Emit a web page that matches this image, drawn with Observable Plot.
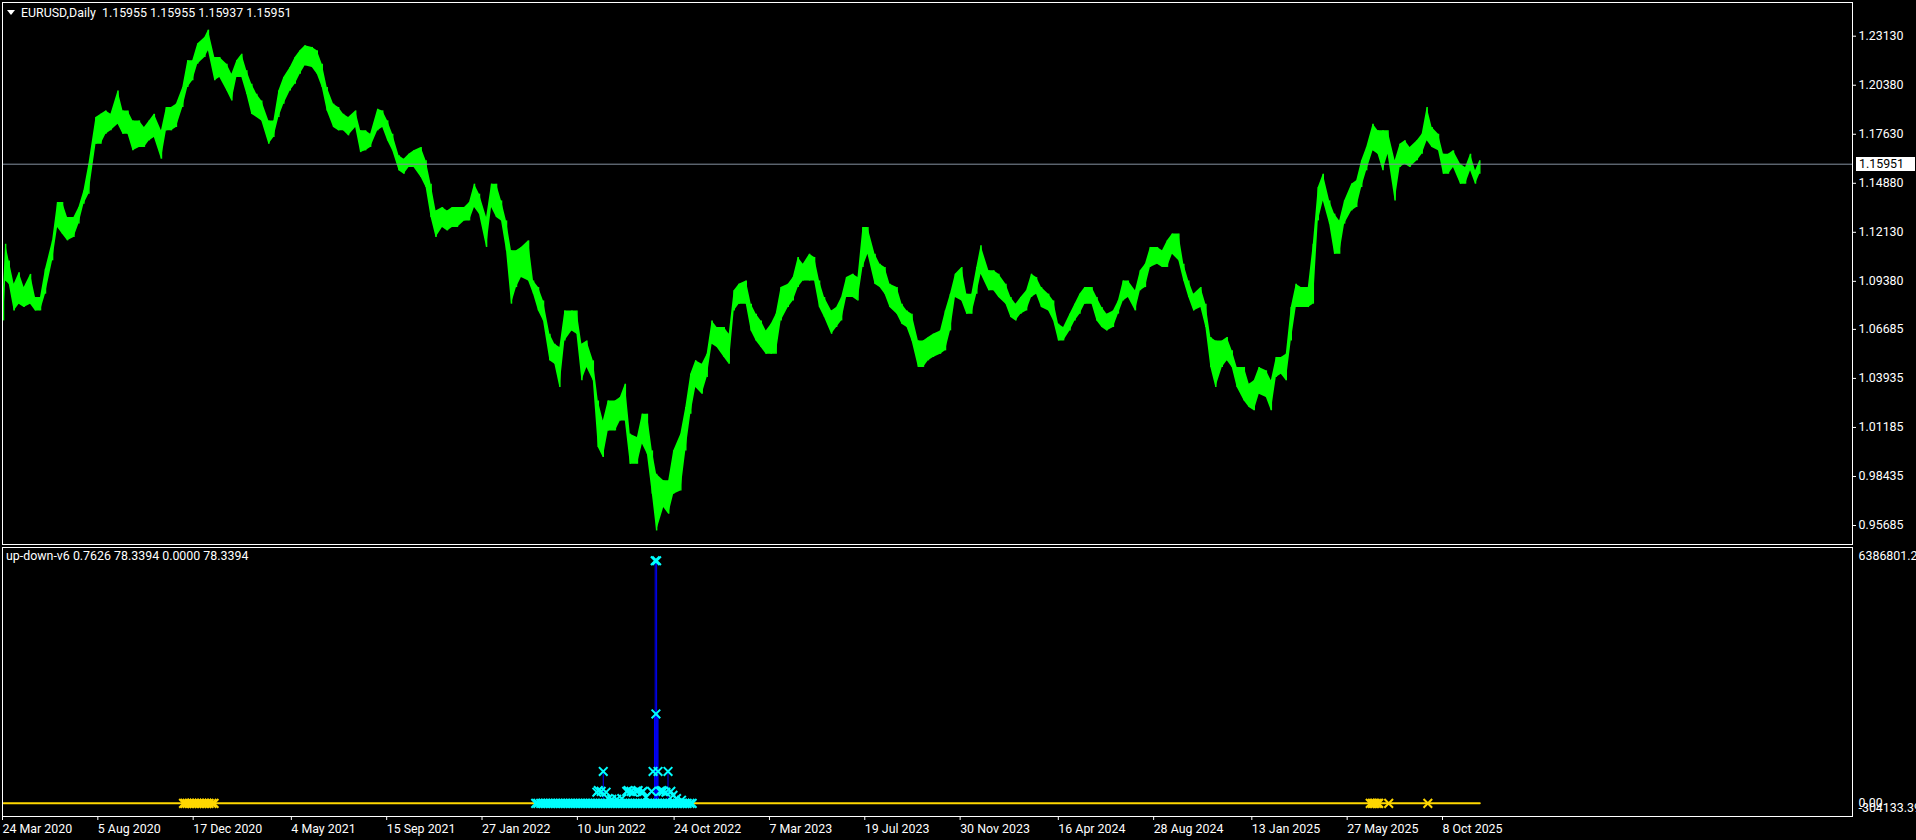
<!DOCTYPE html>
<html>
<head>
<meta charset="utf-8">
<script src="https://cdn.jsdelivr.net/npm/d3@7"></script>
<script src="https://cdn.jsdelivr.net/npm/@observablehq/plot@0.6"></script>
<style>
html,body{margin:0;padding:0;background:#000;overflow:hidden;}
#wrap{position:relative;width:1916px;height:840px;background:#000;font-family:Roboto,"Liberation Sans",Arial,sans-serif;color:#fff;}
#wrap svg{position:absolute;left:0;}
.lbl{position:absolute;font-size:12.4px;line-height:14px;white-space:pre;color:#fff;}
#tri{position:absolute;left:7px;top:10px;width:0;height:0;border-left:4px solid transparent;border-right:4px solid transparent;border-top:5px solid #fff;}
#tag{position:absolute;left:1856px;width:56px;height:14px;background:#fff;color:#000;font-size:12.4px;line-height:14px;padding-left:3px;white-space:pre;}
</style>
</head>
<body>
<div id="wrap"></div>
<script>
// ---------- data ----------
const symbolTitle = "EURUSD,Daily  1.15955 1.15955 1.15937 1.15951";
const indicatorTitle = "up-down-v6 0.7626 78.3394 0.0000 78.3394";
const lastPrice = 1.15951;

const priceTicks = [1.23130,1.20380,1.17630,1.14880,1.12130,1.09380,1.06685,1.03935,1.01185,0.98435,0.95685];
const tickDates = ["2020-03-24","2020-08-05","2020-12-17","2021-05-04","2021-09-15","2022-01-27","2022-06-10","2022-10-24","2023-03-07","2023-07-19","2023-11-30","2024-04-16","2024-08-28","2025-01-13","2025-05-27","2025-10-08"];

// price range (high / low) read around the 1st and 15th of each month
const priceDates = [
 "2020-03-24","2020-03-27","2020-04-01","2020-04-15","2020-05-01","2020-05-15","2020-06-01","2020-06-15","2020-07-01","2020-07-15","2020-08-01","2020-08-15","2020-09-01","2020-09-15","2020-10-01","2020-10-15","2020-11-01","2020-11-15","2020-12-01","2020-12-15",
 "2021-01-01","2021-01-06","2021-01-15","2021-02-01","2021-02-15","2021-03-01","2021-03-15","2021-04-01","2021-04-15","2021-05-01","2021-05-15","2021-06-01","2021-06-15","2021-07-01","2021-07-15","2021-08-01","2021-08-15","2021-09-01","2021-09-15","2021-10-01","2021-10-15","2021-11-01","2021-11-15","2021-12-01","2021-12-15",
 "2022-01-01","2022-01-15","2022-02-01","2022-02-15","2022-03-01","2022-03-15","2022-04-01","2022-04-15","2022-05-01","2022-05-15","2022-06-01","2022-06-15","2022-07-01","2022-07-15","2022-08-01","2022-08-15","2022-09-01","2022-09-15","2022-09-28","2022-10-15","2022-11-01","2022-11-15","2022-12-01","2022-12-15",
 "2023-01-01","2023-01-15","2023-02-01","2023-02-15","2023-03-01","2023-03-15","2023-04-01","2023-04-15","2023-05-01","2023-05-15","2023-06-01","2023-06-15","2023-07-01","2023-07-15","2023-08-01","2023-08-15","2023-09-01","2023-09-15","2023-10-01","2023-10-15","2023-11-01","2023-11-15","2023-12-01","2023-12-15","2023-12-28",
 "2024-01-15","2024-02-01","2024-02-15","2024-03-01","2024-03-15","2024-04-01","2024-04-15","2024-05-01","2024-05-15","2024-06-01","2024-06-15","2024-07-01","2024-07-15","2024-08-01","2024-08-15","2024-09-01","2024-09-15","2024-10-01","2024-10-15","2024-11-01","2024-11-15","2024-12-01","2024-12-15",
 "2025-01-01","2025-01-15","2025-02-01","2025-02-15","2025-03-01","2025-03-15","2025-04-01","2025-04-15","2025-05-01","2025-05-15","2025-06-01","2025-06-15","2025-07-01","2025-07-15","2025-08-01","2025-08-15","2025-09-01","2025-09-15","2025-10-01","2025-10-15","2025-11-01","2025-11-15","2025-11-28"
];
const priceHigh = [
 1.0894,1.1146,1.1052,1.0986,1.0977,1.0847,1.1165,1.1380,1.1296,1.1445,1.1857,1.1894,1.2006,1.1894,1.1838,1.1838,1.1782,1.1913,1.2025,1.2175,
 1.2306,1.2347,1.2194,1.2156,1.2175,1.2119,1.1988,1.1838,1.2006,1.2137,1.2231,1.2250,1.2156,1.1932,1.1875,1.1894,1.1782,1.1903,1.1838,1.1642,1.1651,1.1689,1.1483,1.1352,1.1352,
 1.1352,1.1483,1.1296,1.1483,1.1277,1.1109,1.1165,1.0903,1.0641,1.0567,1.0772,1.0585,1.0492,1.0155,1.0267,1.0361,1.0062,1.0193,0.9856,0.9819,1.0081,1.0417,1.0473,1.0716,
 1.0679,1.0885,1.0940,1.0754,1.0660,1.0754,1.0922,1.1072,1.1090,1.0940,1.0772,1.0847,1.0978,1.1240,1.1090,1.1016,1.0903,1.0772,1.0604,1.0623,1.0660,1.0866,1.1016,1.0866,1.1137,
 1.0997,1.0922,1.0810,1.0885,1.0959,1.0866,1.0698,1.0754,1.0866,1.0903,1.0791,1.0772,1.0940,1.0885,1.1034,1.1128,1.1165,1.1203,1.0940,1.0903,1.0623,1.0604,1.0548,
 1.0455,1.0380,1.0436,1.0511,1.0529,1.0922,1.0903,1.1464,1.1389,1.1277,1.1483,1.1614,1.1819,1.1782,1.1614,1.1726,1.1726,1.1913,1.1763,1.1651,1.1595,1.1651,1.1614
];
const priceLow = [
 1.0716,1.0940,1.0921,1.0810,1.0810,1.0772,1.1053,1.1202,1.1184,1.1371,1.1707,1.1763,1.1819,1.1763,1.1689,1.1726,1.1623,1.1782,1.1913,1.2063,
 1.2194,1.2231,1.2063,1.2007,1.2081,1.1988,1.1857,1.1707,1.1857,1.2006,1.2100,1.2137,1.2025,1.1801,1.1782,1.1801,1.1670,1.1782,1.1726,1.1558,1.1576,1.1520,1.1296,1.1240,1.1240,
 1.1277,1.1352,1.1128,1.1296,1.1109,1.0903,1.0940,1.0772,1.0492,1.0342,1.0660,1.0380,1.0380,0.9950,1.0099,1.0155,0.9912,0.9968,0.9538,0.9632,0.9762,1.0193,1.0305,1.0585,
 1.0511,1.0772,1.0810,1.0604,1.0529,1.0529,1.0791,1.0903,1.0940,1.0791,1.0641,1.0716,1.0847,1.1016,1.0922,1.0866,1.0754,1.0679,1.0455,1.0492,1.0529,1.0660,1.0828,1.0754,1.0978,
 1.0885,1.0810,1.0716,1.0772,1.0866,1.0772,1.0604,1.0660,1.0754,1.0810,1.0679,1.0679,1.0828,1.0772,1.0903,1.1034,1.1016,1.1053,1.0847,1.0791,1.0455,1.0455,1.0455,
 1.0267,1.0212,1.0286,1.0399,1.0380,1.0791,1.0791,1.1277,1.1258,1.1090,1.1333,1.1464,1.1670,1.1558,1.1389,1.1595,1.1614,1.1726,1.1670,1.1539,1.1483,1.1558,1.1539
];

// price range read around the 8th and 22nd of each month
const priceDatesMid = [
 "2020-04-08","2020-04-22","2020-05-08","2020-05-22","2020-06-08","2020-06-22","2020-07-08","2020-07-22","2020-08-08","2020-08-22","2020-09-08","2020-09-22","2020-10-08","2020-10-22","2020-11-08","2020-11-22","2020-12-08","2020-12-22",
 "2021-01-22","2021-02-08","2021-02-22","2021-03-08","2021-03-22","2021-04-08","2021-04-22","2021-05-08","2021-05-22","2021-06-08","2021-06-22","2021-07-08","2021-07-22","2021-08-08","2021-08-22","2021-09-08","2021-09-22","2021-10-08","2021-10-22","2021-11-08","2021-11-22","2021-12-08","2021-12-22",
 "2022-01-08","2022-01-22","2022-02-08","2022-02-22","2022-03-08","2022-03-22","2022-04-08","2022-04-22","2022-05-08","2022-05-22","2022-06-08","2022-06-22","2022-07-08","2022-07-22","2022-08-08","2022-08-22","2022-09-08","2022-09-22","2022-10-08","2022-10-22","2022-11-08","2022-11-22","2022-12-08","2022-12-22",
 "2023-01-08","2023-01-22","2023-02-08","2023-02-22","2023-03-08","2023-03-22","2023-04-08","2023-04-22","2023-05-08","2023-05-22","2023-06-08","2023-06-22","2023-07-08","2023-07-22","2023-08-08","2023-08-22","2023-09-08","2023-09-22","2023-10-08","2023-10-22","2023-11-08","2023-11-22","2023-12-08","2023-12-22",
 "2024-01-08","2024-01-22","2024-02-08","2024-02-22","2024-03-08","2024-03-22","2024-04-08","2024-04-22","2024-05-08","2024-05-22","2024-06-08","2024-06-22","2024-07-08","2024-07-22","2024-08-08","2024-08-22","2024-09-08","2024-09-22","2024-10-08","2024-10-22","2024-11-08","2024-11-22","2024-12-08","2024-12-22",
 "2025-01-08","2025-01-22","2025-02-08","2025-02-22","2025-03-08","2025-03-22","2025-04-08","2025-04-22","2025-05-08","2025-05-22","2025-06-08","2025-06-22","2025-07-08","2025-07-22","2025-08-08","2025-08-22","2025-09-08","2025-09-22","2025-10-08","2025-10-22","2025-11-08","2025-11-22"
];
const priceHighMid = [
 1.0922,1.0903,1.0847,1.1006,1.1380,1.1296,1.1352,1.1595,1.1875,1.1875,1.1894,1.1838,1.1801,1.1875,1.1913,1.1932,1.2175,1.2269,
 1.2194,1.2100,1.2212,1.2044,1.1950,1.1838,1.2081,1.2194,1.2259,1.2231,1.2025,1.1913,1.1857,1.1782,1.1763,1.1894,1.1763,1.1623,1.1670,1.1614,1.1333,1.1333,1.1352,
 1.1380,1.1427,1.1483,1.1389,1.1109,1.1128,1.0940,1.0828,1.0585,1.0772,1.0772,1.0604,1.0267,1.0267,1.0286,1.0081,1.0193,0.9987,0.9819,0.9987,1.0230,1.0492,1.0529,1.0679,
 1.0641,1.0922,1.0810,1.0716,1.0698,1.0903,1.0959,1.1034,1.1072,1.0847,1.0791,1.0959,1.0959,1.1240,1.1034,1.0922,1.0810,1.0754,1.0604,1.0641,1.0772,1.0978,1.0866,1.1016,
 1.0997,1.0978,1.0847,1.0847,1.0978,1.0903,1.0828,1.0679,1.0810,1.0903,1.0847,1.0754,1.0828,1.0940,1.0997,1.1128,1.1109,1.1203,1.1034,1.0866,1.0810,1.0604,1.0623,1.0455,
 1.0361,1.0455,1.0380,1.0511,1.0791,1.0903,1.1146,1.1539,1.1315,1.1389,1.1502,1.1689,1.1782,1.1782,1.1707,1.1689,1.1763,1.1801,1.1651,1.1670,1.1576,1.1558
];
const priceLowMid = [
 1.0772,1.0791,1.0772,1.0866,1.1240,1.1165,1.1259,1.1427,1.1707,1.1782,1.1763,1.1670,1.1689,1.1745,1.1782,1.1801,1.2025,1.2156,
 1.2081,1.1950,1.2081,1.1875,1.1838,1.1745,1.1932,1.2044,1.2147,1.2100,1.1894,1.1782,1.1754,1.1660,1.1689,1.1801,1.1670,1.1539,1.1576,1.1464,1.1184,1.1221,1.1240,
 1.1277,1.1315,1.1352,1.1277,1.0810,1.0959,1.0866,1.0716,1.0473,1.0604,1.0641,1.0455,1.0006,1.0099,1.0155,0.9912,1.0025,0.9744,0.9669,0.9744,0.9987,1.0342,1.0399,1.0567,
 1.0473,1.0810,1.0660,1.0567,1.0529,1.0716,1.0828,1.0940,1.0940,1.0735,1.0679,1.0847,1.0828,1.1090,1.0903,1.0791,1.0698,1.0604,1.0455,1.0511,1.0548,1.0847,1.0754,1.0866,
 1.0885,1.0847,1.0735,1.0754,1.0847,1.0791,1.0716,1.0604,1.0716,1.0810,1.0716,1.0660,1.0754,1.0847,1.0885,1.1016,1.1016,1.1090,1.0940,1.0772,1.0679,1.0342,1.0492,1.0342,
 1.0230,1.0305,1.0212,1.0417,1.0604,1.0791,1.0810,1.1389,1.1090,1.1259,1.1352,1.1558,1.1651,1.1651,1.1576,1.1576,1.1651,1.1689,1.1539,1.1576,1.1483,1.1483
];

// indicator window
const indicatorMax = 6386801.2;
const indicatorMin = -304133.39;
const lineDates = ["2020-03-24","2025-11-28"];
const lineValues = [0, 0];

const upDates = [
 "2022-04-11","2022-04-14","2022-04-18","2022-04-21","2022-04-25","2022-04-28",
 "2022-05-02","2022-05-05","2022-05-09","2022-05-12","2022-05-16","2022-05-19","2022-05-23","2022-05-26","2022-05-30",
 "2022-06-02","2022-06-06","2022-06-09","2022-06-13","2022-06-16","2022-06-20","2022-06-23","2022-06-27","2022-06-30",
 "2022-07-04","2022-07-07","2022-07-11","2022-07-14","2022-07-18","2022-07-21","2022-07-25","2022-07-28",
 "2022-08-01","2022-08-04","2022-08-08","2022-08-11","2022-08-15","2022-08-18","2022-08-22","2022-08-25","2022-08-29",
 "2022-09-01","2022-09-05","2022-09-08","2022-09-12","2022-09-15","2022-09-19","2022-09-22","2022-09-26","2022-09-29",
 "2022-10-03","2022-10-06","2022-10-10","2022-10-13","2022-10-17","2022-10-20","2022-10-24","2022-10-27","2022-10-31",
 "2022-11-03","2022-11-07","2022-11-10","2022-11-14","2022-11-17",
 "2022-07-06","2022-07-08","2022-07-12","2022-07-15","2022-07-19","2022-07-22","2022-07-27","2022-08-03","2022-08-10",
 "2022-08-17","2022-08-19","2022-08-23","2022-08-26","2022-08-31","2022-09-02","2022-09-07","2022-09-09","2022-09-13",
 "2022-09-21","2022-09-23","2022-09-26","2022-09-27","2022-09-28","2022-09-30","2022-10-03","2022-10-05","2022-10-07",
 "2022-10-11","2022-10-14","2022-10-18","2022-10-21","2022-10-26","2022-11-02"
];
const upValues = [
 0,0,0,0,0,0,
 0,0,0,0,0,0,0,0,0,
 0,0,0,0,0,0,0,0,0,
 0,0,0,0,0,0,0,0,
 0,0,0,0,0,0,0,0,0,
 0,0,0,0,0,0,0,0,0,
 0,0,0,0,0,0,0,0,0,
 0,0,0,0,0,
 280000,320000,300000,800000,280000,120000,100000,100000,120000,
 300000,320000,300000,280000,300000,320000,280000,300000,150000,
 300000,800000,6080000,2240000,6080000,800000,300000,320000,300000,
 280000,800000,300000,200000,120000,80000
];

const downDates = [
 "2020-12-02","2020-12-04","2020-12-07","2020-12-10","2020-12-14","2020-12-17","2020-12-21","2020-12-24","2020-12-28","2020-12-31",
 "2021-01-04","2021-01-07","2021-01-11","2021-01-14",
 "2025-06-27","2025-06-30","2025-07-02","2025-07-04","2025-07-07","2025-07-09","2025-07-23","2025-09-16"
];
const downValues = [0,0,0,0,0,0,0,0,0,0, 0,0,0,0, 0,0,0,0,0,0,0,0];

const histDates = ["2022-07-15","2022-09-25","2022-09-26","2022-09-27","2022-09-28","2022-09-29","2022-09-30","2022-10-14"];
const histValues = [800000,2240000,6080000,2240000,6080000,2240000,2240000,800000];

// ---------- build rows ----------
const priceRows = priceDates.map((d,i)=>({date:new Date(d), hi:priceHigh[i], lo:priceLow[i]}))
  .concat(priceDatesMid.map((d,i)=>({date:new Date(d), hi:priceHighMid[i], lo:priceLowMid[i]})))
  .sort((a,b)=>a.date-b.date);
const lineRows = lineDates.map((d,i)=>({date:new Date(d), v:lineValues[i]}));
const upRows = upDates.map((d,i)=>({date:new Date(d), v:upValues[i]}));
const downRows = downDates.map((d,i)=>({date:new Date(d), v:downValues[i]}));
const histRows = histDates.map((d,i)=>({date:new Date(d), v:histValues[i]}));

const GREEN = "#00ff00", CYAN = "#00ffff", GOLD = "#ffd700", BLUE = "#0000ff";
const style = {fontFamily:'Roboto,"Liberation Sans",Arial,sans-serif', fontSize:"12.4px", color:"#fff", background:"transparent", overflow:"visible"};
const xOpts = {type:"utc", domain:[new Date(tickDates[0]), new Date(tickDates[tickDates.length-1])], range:[3,1443], label:null};

const main = Plot.plot({
  width:1916, height:545, marginLeft:2, marginRight:64, marginTop:2, marginBottom:1,
  style,
  x:{...xOpts, axis:null},
  y:{domain:[0.95685,1.23130], range:[525,35.7], label:null},
  marks:[
    Plot.areaY(priceRows,{x:"date", y1:"lo", y2:"hi", fill:GREEN}),
    Plot.ruleX(priceRows,{x:"date", y1:"lo", y2:"hi", stroke:GREEN, strokeWidth:1.5}),
    Plot.ruleY([lastPrice],{stroke:"#8592a0"}),
    Plot.axisY({ticks:priceTicks, anchor:"right", tickSize:3, tickPadding:3, tickFormat:d=>d.toFixed(5), label:null}),
    Plot.frame({stroke:"#fff"})
  ]
});
main.style.top = "0px";

const lower = Plot.plot({
  width:1916, height:295, marginLeft:2, marginRight:64, marginTop:2, marginBottom:24,
  style,
  x:{...xOpts},
  y:{domain:[indicatorMin, indicatorMax], range:[270,3], label:null},
  marks:[
    Plot.line(lineRows,{x:"date", y:"v", stroke:GOLD, strokeWidth:2}),
    Plot.ruleX(histRows,{x:"date", y1:0, y2:"v", stroke:BLUE, strokeWidth:1}),
    Plot.dot(downRows,{x:"date", y:"v", symbol:"times", stroke:GOLD, r:4, strokeWidth:2}),
    Plot.dot(upRows,{x:"date", y:"v", symbol:"times", stroke:CYAN, r:4, strokeWidth:2}),
    Plot.axisX({ticks:tickDates.map(d=>new Date(d)), anchor:"bottom", tickSize:4, tickPadding:4, textAnchor:"start", dx:-1, tickFormat:d3.utcFormat("%-d %b %Y"), label:null}),
    Plot.axisY({ticks:[indicatorMax], anchor:"right", tickSize:0, tickPadding:6, dy:8, tickFormat:d=>String(d), label:null}),
    Plot.axisY({ticks:[0], anchor:"right", tickSize:0, tickPadding:6, dy:0, tickFormat:d=>d.toFixed(2), label:null}),
    Plot.axisY({ticks:[indicatorMin], anchor:"right", tickSize:0, tickPadding:6, dy:-7, tickFormat:d=>d.toFixed(2), label:null}),
    Plot.frame({stroke:"#fff"})
  ]
});
lower.style.top = "545px";

const wrap = document.getElementById("wrap");
wrap.appendChild(main);
wrap.appendChild(lower);

// header texts
const tri = document.createElement("div"); tri.id = "tri"; wrap.appendChild(tri);
const t1 = document.createElement("div"); t1.className = "lbl"; t1.style.left = "21px"; t1.style.top = "5.5px"; t1.textContent = symbolTitle; wrap.appendChild(t1);
const t2 = document.createElement("div"); t2.className = "lbl"; t2.style.left = "6px"; t2.style.top = "549px"; t2.textContent = indicatorTitle; wrap.appendChild(t2);

// current price tag positioned through the plot's y scale
const tag = document.createElement("div"); tag.id = "tag";
tag.textContent = lastPrice.toFixed(5);
tag.style.top = (main.scale("y").apply(lastPrice) - 7) + "px";
wrap.appendChild(tag);
</script>
</body>
</html>
